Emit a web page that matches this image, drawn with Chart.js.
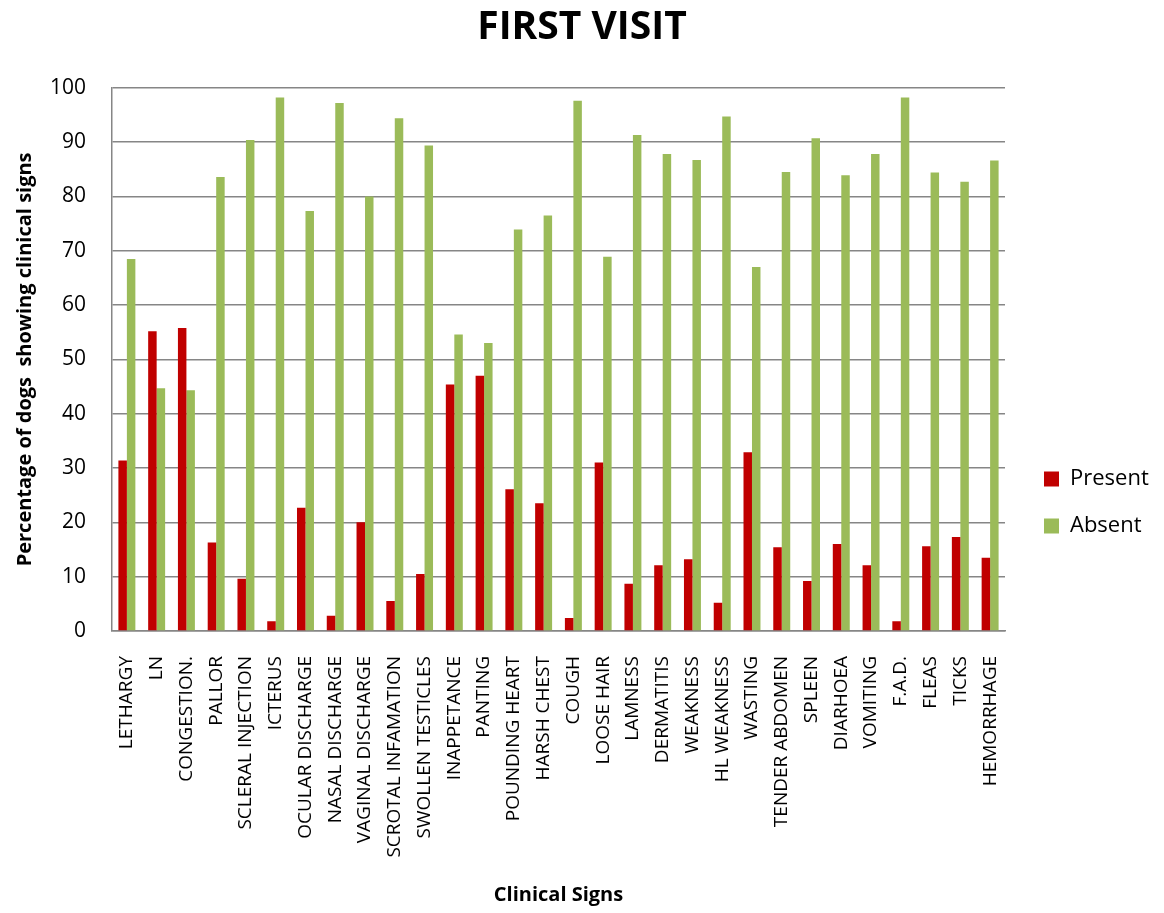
<!DOCTYPE html>
<html>
<head>
<meta charset="utf-8">
<script src="https://cdn.jsdelivr.net/npm/chart.js@4"></script>
<style>
  body { margin: 0; background: #fff; }
</style>
</head>
<body>
<canvas id="visitChart" width="1164" height="913"></canvas>
<script>
// Clinical signs observed at the first visit (% of dogs)
const signs = [
  "LETHARGY", "LN", "CONGESTION.", "PALLOR", "SCLERAL INJECTION", "ICTERUS",
  "OCULAR DISCHARGE", "NASAL DISCHARGE", "VAGINAL DISCHARGE", "SCROTAL INFAMATION",
  "SWOLLEN TESTICLES", "INAPPETANCE", "PANTING", "POUNDING HEART", "HARSH CHEST",
  "COUGH", "LOOSE HAIR", "LAMNESS", "DERMATITIS", "WEAKNESS", "HL WEAKNESS",
  "WASTING", "TENDER ABDOMEN", "SPLEEN", "DIARHOEA", "VOMITING", "F.A.D.",
  "FLEAS", "TICKS", "HEMORRHAGE"
];
const present = [
  31.4, 55.2, 55.8, 16.3, 9.6, 1.8, 22.7, 2.8, 20.0, 5.5,
  10.5, 45.4, 47.0, 26.1, 23.5, 2.4, 31.0, 8.7, 12.1, 13.2,
  5.2, 32.9, 15.4, 9.2, 16.0, 12.1, 1.8, 15.6, 17.3, 13.5
];
const absent = [
  68.5, 44.7, 44.3, 83.6, 90.4, 98.2, 77.3, 97.2, 80.0, 94.4,
  89.4, 54.6, 53.0, 73.9, 76.5, 97.6, 68.9, 91.3, 87.8, 86.7,
  94.7, 67.0, 84.5, 90.7, 83.9, 87.8, 98.2, 84.4, 82.7, 86.6
];
const yTicks = { min: 0, max: 100, step: 10 };

const FONT = "'Open Sans', 'DejaVu Sans', sans-serif";
const GRID = "#868686";

// legend sits in a fixed-width column on the right, a bit lower than centre
const legendColumn = {
  id: "legendColumn",
  beforeInit(chart) {
    const legend = chart.legend;
    const fit = legend.fit;
    legend.fit = function () {
      fit.call(this);
      this.width = 159;
    };
  },
  afterLayout(chart) {
    const legend = chart.legend;
    legend.left += 14;
    legend.right += 14;
    legend.top += 46;
    legend.bottom += 46;
  }
};

new Chart(document.getElementById("visitChart"), {
  type: "bar",
  data: {
    labels: signs,
    datasets: [
      {
        label: "Present",
        data: present,
        backgroundColor: "#C00000",
        categoryPercentage: 0.57,
        barPercentage: 1.0
      },
      {
        label: "Absent",
        data: absent,
        backgroundColor: "#9BBB59",
        categoryPercentage: 0.57,
        barPercentage: 1.0
      }
    ]
  },
  options: {
    responsive: false,
    devicePixelRatio: 1,
    animation: false,
    layout: { padding: 0 },
    plugins: {
      title: {
        display: true,
        text: "FIRST VISIT",
        color: "#000",
        font: { family: FONT, size: 39, weight: "bold" },
        padding: { top: 4, bottom: 37 }
      },
      legend: {
        position: "right",
        align: "center",
        labels: {
          color: "#000",
          font: { family: FONT, size: 22 },
          boxWidth: 15,
          boxHeight: 15,
          padding: 25
        }
      },
      tooltip: { enabled: false }
    },
    scales: {
      x: {
        grid: { display: false },
        border: { display: true, color: GRID, width: 1.5 },
        ticks: {
          color: "#000",
          font: { family: FONT, size: 19 },
          minRotation: 90,
          maxRotation: 90,
          autoSkip: false,
          padding: 17
        },
        title: {
          display: true,
          text: "Clinical Signs",
          color: "#000",
          font: { family: FONT, size: 20, weight: "bold" },
          padding: { top: 0, bottom: 6 }
        },
        afterFit(scale) { scale.height = 282; }
      },
      y: {
        min: yTicks.min,
        max: yTicks.max,
        grid: { color: GRID, lineWidth: 1.5, drawTicks: false },
        border: { display: true, color: GRID, width: 1.5 },
        ticks: {
          stepSize: yTicks.step,
          color: "#000",
          font: { family: FONT, size: 21 },
          padding: 26
        },
        title: {
          display: true,
          text: "Percentage of dogs  showing clinical signs",
          color: "#000",
          font: { family: FONT, size: 20, weight: "bold" },
          padding: { top: 13, bottom: 0 }
        },
        afterFit(scale) { scale.width = 112; }
      }
    }
  },
  plugins: [legendColumn]
});
</script>
</body>
</html>
